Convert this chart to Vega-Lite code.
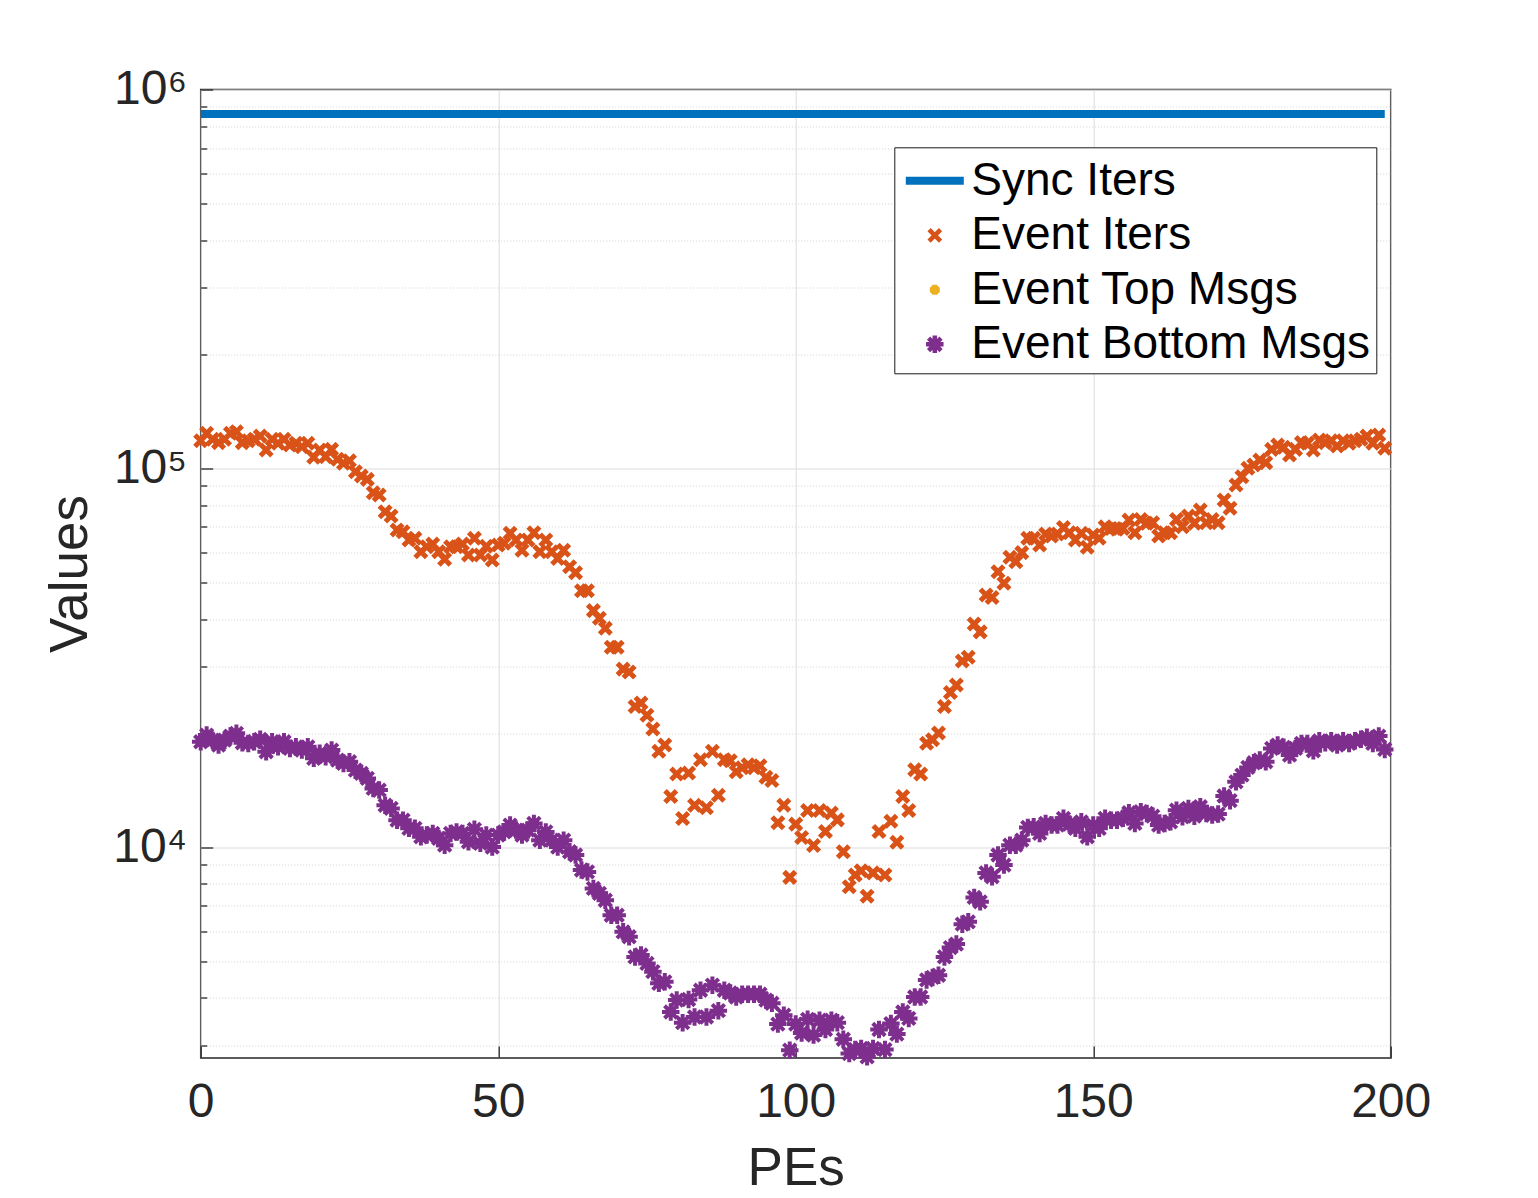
{
  "$schema": "https://vega.github.io/schema/vega-lite/v6.json",
  "width": 1190,
  "height": 968.5,
  "autosize": "none",
  "padding": {"left": 200.7, "top": 89.5, "right": 147.3, "bottom": 140},
  "background": "white",
  "config": {
    "font": "Liberation Sans",
    "view": {"stroke": "#262626", "strokeWidth": 1.5},
    "axis": {
      "labelFont": "Liberation Sans",
      "titleFont": "Liberation Sans",
      "labelColor": "#262626",
      "titleColor": "#262626",
      "titleFontWeight": "normal",
      "labelFontSize": 48,
      "titleFontSize": 53,
      "domain": false,
      "tickColor": "#262626",
      "tickWidth": 1.3,
      "gridColor": "#dcdcdc",
      "gridWidth": 1
    },
    "legend": {
      "orient": "none",
      "legendX": 693.6,
      "legendY": 57.8,
      "fillColor": "white",
      "strokeColor": "#1a1a1a",
      "padding": 6,
      "labelFont": "Liberation Sans",
      "labelFontSize": 46,
      "labelColor": "black",
      "labelLimit": 600,
      "symbolOffset": 7,
      "labelOffset": 9,
      "symbolSize": 2500,
      "symbolStrokeWidth": 4.5,
      "rowPadding": 3.5
    }
  },
  "data": {
    "values": [
      {"pe": 0, "sync": 862000, "iters": 118300, "top": 18970, "bottom": 18970},
      {"pe": 1, "sync": 862000, "iters": 123700, "top": 19760, "bottom": 19760},
      {"pe": 2, "sync": 862000, "iters": 119300, "top": 19160, "bottom": 19160},
      {"pe": 3, "sync": 862000, "iters": 116900, "top": 18590, "bottom": 18590},
      {"pe": 4, "sync": 862000, "iters": 119300, "top": 19160, "bottom": 19160},
      {"pe": 5, "sync": 862000, "iters": 123700, "top": 19640, "bottom": 19640},
      {"pe": 6, "sync": 862000, "iters": 124900, "top": 19970, "bottom": 19970},
      {"pe": 7, "sync": 862000, "iters": 116900, "top": 18860, "bottom": 18860},
      {"pe": 8, "sync": 862000, "iters": 118300, "top": 18780, "bottom": 18780},
      {"pe": 9, "sync": 862000, "iters": 119300, "top": 18970, "bottom": 18970},
      {"pe": 10, "sync": 862000, "iters": 121700, "top": 19250, "bottom": 19250},
      {"pe": 11, "sync": 862000, "iters": 111800, "top": 17850, "bottom": 17850},
      {"pe": 12, "sync": 862000, "iters": 119300, "top": 18970, "bottom": 18970},
      {"pe": 13, "sync": 862000, "iters": 116400, "top": 18400, "bottom": 18400},
      {"pe": 14, "sync": 862000, "iters": 119300, "top": 18970, "bottom": 18970},
      {"pe": 15, "sync": 862000, "iters": 115200, "top": 18220, "bottom": 18220},
      {"pe": 16, "sync": 862000, "iters": 116400, "top": 18400, "bottom": 18400},
      {"pe": 17, "sync": 862000, "iters": 114000, "top": 18040, "bottom": 18040},
      {"pe": 18, "sync": 862000, "iters": 116400, "top": 18400, "bottom": 18400},
      {"pe": 19, "sync": 862000, "iters": 106900, "top": 17150, "bottom": 17150},
      {"pe": 20, "sync": 862000, "iters": 111800, "top": 17680, "bottom": 17680},
      {"pe": 21, "sync": 862000, "iters": 107300, "top": 17320, "bottom": 17320},
      {"pe": 22, "sync": 862000, "iters": 112200, "top": 18040, "bottom": 18040},
      {"pe": 23, "sync": 862000, "iters": 105600, "top": 16970, "bottom": 16970},
      {"pe": 24, "sync": 862000, "iters": 103100, "top": 16630, "bottom": 16630},
      {"pe": 25, "sync": 862000, "iters": 104700, "top": 16800, "bottom": 16800},
      {"pe": 26, "sync": 862000, "iters": 97950, "top": 15970, "bottom": 15970},
      {"pe": 27, "sync": 862000, "iters": 95400, "top": 15650, "bottom": 15650},
      {"pe": 28, "sync": 862000, "iters": 93500, "top": 15180, "bottom": 15180},
      {"pe": 29, "sync": 862000, "iters": 86200, "top": 14290, "bottom": 14290},
      {"pe": 30, "sync": 862000, "iters": 85000, "top": 14140, "bottom": 14140},
      {"pe": 31, "sync": 862000, "iters": 76800, "top": 12900, "bottom": 12900},
      {"pe": 32, "sync": 862000, "iters": 74800, "top": 12650, "bottom": 12650},
      {"pe": 33, "sync": 862000, "iters": 68700, "top": 11780, "bottom": 11780},
      {"pe": 34, "sync": 862000, "iters": 68000, "top": 11780, "bottom": 11780},
      {"pe": 35, "sync": 862000, "iters": 64700, "top": 11210, "bottom": 11210},
      {"pe": 36, "sync": 862000, "iters": 65400, "top": 11210, "bottom": 11210},
      {"pe": 37, "sync": 862000, "iters": 60200, "top": 10650, "bottom": 10650},
      {"pe": 38, "sync": 862000, "iters": 62100, "top": 10760, "bottom": 10760},
      {"pe": 39, "sync": 862000, "iters": 63100, "top": 10870, "bottom": 10870},
      {"pe": 40, "sync": 862000, "iters": 60200, "top": 10540, "bottom": 10540},
      {"pe": 41, "sync": 862000, "iters": 57500, "top": 10120, "bottom": 10120},
      {"pe": 42, "sync": 862000, "iters": 62100, "top": 10870, "bottom": 10870},
      {"pe": 43, "sync": 862000, "iters": 62100, "top": 10970, "bottom": 10970},
      {"pe": 44, "sync": 862000, "iters": 63100, "top": 10870, "bottom": 10870},
      {"pe": 45, "sync": 862000, "iters": 59000, "top": 10330, "bottom": 10330},
      {"pe": 46, "sync": 862000, "iters": 65400, "top": 11140, "bottom": 11140},
      {"pe": 47, "sync": 862000, "iters": 59000, "top": 10230, "bottom": 10230},
      {"pe": 48, "sync": 862000, "iters": 62300, "top": 10760, "bottom": 10760},
      {"pe": 49, "sync": 862000, "iters": 57300, "top": 10000, "bottom": 10000},
      {"pe": 50, "sync": 862000, "iters": 62700, "top": 10760, "bottom": 10760},
      {"pe": 51, "sync": 862000, "iters": 63400, "top": 10970, "bottom": 10970},
      {"pe": 52, "sync": 862000, "iters": 67400, "top": 11430, "bottom": 11430},
      {"pe": 53, "sync": 862000, "iters": 64700, "top": 11090, "bottom": 11090},
      {"pe": 54, "sync": 862000, "iters": 60800, "top": 10760, "bottom": 10760},
      {"pe": 55, "sync": 862000, "iters": 64700, "top": 11090, "bottom": 11090},
      {"pe": 56, "sync": 862000, "iters": 67600, "top": 11550, "bottom": 11550},
      {"pe": 57, "sync": 862000, "iters": 60200, "top": 10430, "bottom": 10430},
      {"pe": 58, "sync": 862000, "iters": 64700, "top": 10970, "bottom": 10970},
      {"pe": 59, "sync": 862000, "iters": 60200, "top": 10430, "bottom": 10430},
      {"pe": 60, "sync": 862000, "iters": 57800, "top": 10000, "bottom": 10000},
      {"pe": 61, "sync": 862000, "iters": 60800, "top": 10430, "bottom": 10430},
      {"pe": 62, "sync": 862000, "iters": 55000, "top": 9720, "bottom": 9720},
      {"pe": 63, "sync": 862000, "iters": 53000, "top": 9530, "bottom": 9530},
      {"pe": 64, "sync": 862000, "iters": 47500, "top": 8700, "bottom": 8700},
      {"pe": 65, "sync": 862000, "iters": 47500, "top": 8600, "bottom": 8600},
      {"pe": 66, "sync": 862000, "iters": 42100, "top": 7780, "bottom": 7780},
      {"pe": 67, "sync": 862000, "iters": 40200, "top": 7550, "bottom": 7550},
      {"pe": 68, "sync": 862000, "iters": 37800, "top": 7240, "bottom": 7240},
      {"pe": 69, "sync": 862000, "iters": 33700, "top": 6610, "bottom": 6610},
      {"pe": 70, "sync": 862000, "iters": 33700, "top": 6610, "bottom": 6610},
      {"pe": 71, "sync": 862000, "iters": 29500, "top": 5975, "bottom": 5975},
      {"pe": 72, "sync": 862000, "iters": 29000, "top": 5800, "bottom": 5800},
      {"pe": 73, "sync": 862000, "iters": 23500, "top": 5130, "bottom": 5130},
      {"pe": 74, "sync": 862000, "iters": 24000, "top": 5190, "bottom": 5190},
      {"pe": 75, "sync": 862000, "iters": 22300, "top": 4930, "bottom": 4930},
      {"pe": 76, "sync": 862000, "iters": 20500, "top": 4690, "bottom": 4690},
      {"pe": 77, "sync": 862000, "iters": 17900, "top": 4370, "bottom": 4370},
      {"pe": 78, "sync": 862000, "iters": 18600, "top": 4410, "bottom": 4410},
      {"pe": 79, "sync": 862000, "iters": 13600, "top": 3670, "bottom": 3670},
      {"pe": 80, "sync": 862000, "iters": 15600, "top": 3945, "bottom": 3945},
      {"pe": 81, "sync": 862000, "iters": 11900, "top": 3440, "bottom": 3440},
      {"pe": 82, "sync": 862000, "iters": 15700, "top": 3960, "bottom": 3960},
      {"pe": 83, "sync": 862000, "iters": 12900, "top": 3560, "bottom": 3560},
      {"pe": 84, "sync": 862000, "iters": 17000, "top": 4190, "bottom": 4190},
      {"pe": 85, "sync": 862000, "iters": 12700, "top": 3560, "bottom": 3560},
      {"pe": 86, "sync": 862000, "iters": 17900, "top": 4320, "bottom": 4320},
      {"pe": 87, "sync": 862000, "iters": 13700, "top": 3700, "bottom": 3700},
      {"pe": 88, "sync": 862000, "iters": 17000, "top": 4190, "bottom": 4190},
      {"pe": 89, "sync": 862000, "iters": 16900, "top": 4120, "bottom": 4120},
      {"pe": 90, "sync": 862000, "iters": 15800, "top": 4020, "bottom": 4020},
      {"pe": 91, "sync": 862000, "iters": 16200, "top": 4090, "bottom": 4090},
      {"pe": 92, "sync": 862000, "iters": 16500, "top": 4090, "bottom": 4090},
      {"pe": 93, "sync": 862000, "iters": 16200, "top": 4090, "bottom": 4090},
      {"pe": 94, "sync": 862000, "iters": 16400, "top": 4090, "bottom": 4090},
      {"pe": 95, "sync": 862000, "iters": 15300, "top": 3945, "bottom": 3945},
      {"pe": 96, "sync": 862000, "iters": 15000, "top": 3870, "bottom": 3870},
      {"pe": 97, "sync": 862000, "iters": 11600, "top": 3410, "bottom": 3410},
      {"pe": 98, "sync": 862000, "iters": 12900, "top": 3600, "bottom": 3600},
      {"pe": 99, "sync": 862000, "iters": 8320, "top": 2910, "bottom": 2910},
      {"pe": 100, "sync": 862000, "iters": 11500, "top": 3410, "bottom": 3410},
      {"pe": 101, "sync": 862000, "iters": 10600, "top": 3230, "bottom": 3230},
      {"pe": 102, "sync": 862000, "iters": 12500, "top": 3510, "bottom": 3510},
      {"pe": 103, "sync": 862000, "iters": 10100, "top": 3190, "bottom": 3190},
      {"pe": 104, "sync": 862000, "iters": 12500, "top": 3490, "bottom": 3490},
      {"pe": 105, "sync": 862000, "iters": 11000, "top": 3300, "bottom": 3300},
      {"pe": 106, "sync": 862000, "iters": 12300, "top": 3490, "bottom": 3490},
      {"pe": 107, "sync": 862000, "iters": 11800, "top": 3440, "bottom": 3440},
      {"pe": 108, "sync": 862000, "iters": 9720, "top": 3110, "bottom": 3110},
      {"pe": 109, "sync": 862000, "iters": 7860, "top": 2850, "bottom": 2850},
      {"pe": 110, "sync": 862000, "iters": 8440, "top": 2920, "bottom": 2920},
      {"pe": 111, "sync": 862000, "iters": 8660, "top": 2940, "bottom": 2940},
      {"pe": 112, "sync": 862000, "iters": 7420, "top": 2795, "bottom": 2795},
      {"pe": 113, "sync": 862000, "iters": 8550, "top": 2940, "bottom": 2940},
      {"pe": 114, "sync": 862000, "iters": 11000, "top": 3300, "bottom": 3300},
      {"pe": 115, "sync": 862000, "iters": 8440, "top": 2920, "bottom": 2920},
      {"pe": 116, "sync": 862000, "iters": 11700, "top": 3420, "bottom": 3420},
      {"pe": 117, "sync": 862000, "iters": 10300, "top": 3210, "bottom": 3210},
      {"pe": 118, "sync": 862000, "iters": 13600, "top": 3670, "bottom": 3670},
      {"pe": 119, "sync": 862000, "iters": 12500, "top": 3530, "bottom": 3530},
      {"pe": 120, "sync": 862000, "iters": 16000, "top": 4020, "bottom": 4020},
      {"pe": 121, "sync": 862000, "iters": 15600, "top": 4020, "bottom": 4020},
      {"pe": 122, "sync": 862000, "iters": 18800, "top": 4460, "bottom": 4460},
      {"pe": 123, "sync": 862000, "iters": 19200, "top": 4530, "bottom": 4530},
      {"pe": 124, "sync": 862000, "iters": 20000, "top": 4590, "bottom": 4590},
      {"pe": 125, "sync": 862000, "iters": 23500, "top": 5130, "bottom": 5130},
      {"pe": 126, "sync": 862000, "iters": 25600, "top": 5430, "bottom": 5430},
      {"pe": 127, "sync": 862000, "iters": 26800, "top": 5545, "bottom": 5545},
      {"pe": 128, "sync": 862000, "iters": 31000, "top": 6260, "bottom": 6260},
      {"pe": 129, "sync": 862000, "iters": 31700, "top": 6350, "bottom": 6350},
      {"pe": 130, "sync": 862000, "iters": 38800, "top": 7365, "bottom": 7365},
      {"pe": 131, "sync": 862000, "iters": 37000, "top": 7170, "bottom": 7170},
      {"pe": 132, "sync": 862000, "iters": 46300, "top": 8550, "bottom": 8550},
      {"pe": 133, "sync": 862000, "iters": 45600, "top": 8350, "bottom": 8350},
      {"pe": 134, "sync": 862000, "iters": 53300, "top": 9530, "bottom": 9530},
      {"pe": 135, "sync": 862000, "iters": 49700, "top": 8965, "bottom": 8965},
      {"pe": 136, "sync": 862000, "iters": 58200, "top": 10120, "bottom": 10120},
      {"pe": 137, "sync": 862000, "iters": 56700, "top": 10120, "bottom": 10120},
      {"pe": 138, "sync": 862000, "iters": 59900, "top": 10430, "bottom": 10430},
      {"pe": 139, "sync": 862000, "iters": 65400, "top": 11270, "bottom": 11270},
      {"pe": 140, "sync": 862000, "iters": 65400, "top": 11310, "bottom": 11310},
      {"pe": 141, "sync": 862000, "iters": 62700, "top": 10870, "bottom": 10870},
      {"pe": 142, "sync": 862000, "iters": 67100, "top": 11550, "bottom": 11550},
      {"pe": 143, "sync": 862000, "iters": 66300, "top": 11430, "bottom": 11430},
      {"pe": 144, "sync": 862000, "iters": 67100, "top": 11430, "bottom": 11430},
      {"pe": 145, "sync": 862000, "iters": 69800, "top": 11910, "bottom": 11910},
      {"pe": 146, "sync": 862000, "iters": 67600, "top": 11500, "bottom": 11500},
      {"pe": 147, "sync": 862000, "iters": 64700, "top": 11210, "bottom": 11210},
      {"pe": 148, "sync": 862000, "iters": 67400, "top": 11660, "bottom": 11660},
      {"pe": 149, "sync": 862000, "iters": 61900, "top": 10650, "bottom": 10650},
      {"pe": 150, "sync": 862000, "iters": 66700, "top": 11430, "bottom": 11430},
      {"pe": 151, "sync": 862000, "iters": 65400, "top": 11210, "bottom": 11210},
      {"pe": 152, "sync": 862000, "iters": 70100, "top": 11910, "bottom": 11910},
      {"pe": 153, "sync": 862000, "iters": 69400, "top": 11780, "bottom": 11780},
      {"pe": 154, "sync": 862000, "iters": 69000, "top": 11780, "bottom": 11780},
      {"pe": 155, "sync": 862000, "iters": 69400, "top": 11910, "bottom": 11910},
      {"pe": 156, "sync": 862000, "iters": 73000, "top": 12320, "bottom": 12320},
      {"pe": 157, "sync": 862000, "iters": 67600, "top": 11550, "bottom": 11550},
      {"pe": 158, "sync": 862000, "iters": 73300, "top": 12400, "bottom": 12400},
      {"pe": 159, "sync": 862000, "iters": 71600, "top": 12270, "bottom": 12270},
      {"pe": 160, "sync": 862000, "iters": 71800, "top": 12070, "bottom": 12070},
      {"pe": 161, "sync": 862000, "iters": 66300, "top": 11430, "bottom": 11430},
      {"pe": 162, "sync": 862000, "iters": 67600, "top": 11550, "bottom": 11550},
      {"pe": 163, "sync": 862000, "iters": 67600, "top": 11660, "bottom": 11660},
      {"pe": 164, "sync": 862000, "iters": 73300, "top": 12520, "bottom": 12520},
      {"pe": 165, "sync": 862000, "iters": 70100, "top": 12020, "bottom": 12020},
      {"pe": 166, "sync": 862000, "iters": 74800, "top": 12650, "bottom": 12650},
      {"pe": 167, "sync": 862000, "iters": 71600, "top": 12070, "bottom": 12070},
      {"pe": 168, "sync": 862000, "iters": 77600, "top": 12780, "bottom": 12780},
      {"pe": 169, "sync": 862000, "iters": 71800, "top": 12270, "bottom": 12270},
      {"pe": 170, "sync": 862000, "iters": 73300, "top": 12150, "bottom": 12150},
      {"pe": 171, "sync": 862000, "iters": 71800, "top": 12220, "bottom": 12220},
      {"pe": 172, "sync": 862000, "iters": 82500, "top": 13640, "bottom": 13640},
      {"pe": 173, "sync": 862000, "iters": 78400, "top": 13260, "bottom": 13260},
      {"pe": 174, "sync": 862000, "iters": 90300, "top": 14870, "bottom": 14870},
      {"pe": 175, "sync": 862000, "iters": 95000, "top": 15490, "bottom": 15490},
      {"pe": 176, "sync": 862000, "iters": 100000, "top": 16230, "bottom": 16230},
      {"pe": 177, "sync": 862000, "iters": 102000, "top": 16700, "bottom": 16700},
      {"pe": 178, "sync": 862000, "iters": 105200, "top": 16970, "bottom": 16970},
      {"pe": 179, "sync": 862000, "iters": 103500, "top": 16800, "bottom": 16800},
      {"pe": 180, "sync": 862000, "iters": 112200, "top": 18220, "bottom": 18220},
      {"pe": 181, "sync": 862000, "iters": 115200, "top": 18590, "bottom": 18590},
      {"pe": 182, "sync": 862000, "iters": 113600, "top": 18340, "bottom": 18340},
      {"pe": 183, "sync": 862000, "iters": 108400, "top": 17500, "bottom": 17500},
      {"pe": 184, "sync": 862000, "iters": 112200, "top": 18220, "bottom": 18220},
      {"pe": 185, "sync": 862000, "iters": 116900, "top": 18780, "bottom": 18780},
      {"pe": 186, "sync": 862000, "iters": 116400, "top": 18780, "bottom": 18780},
      {"pe": 187, "sync": 862000, "iters": 111800, "top": 17960, "bottom": 17960},
      {"pe": 188, "sync": 862000, "iters": 118800, "top": 19080, "bottom": 19080},
      {"pe": 189, "sync": 862000, "iters": 116900, "top": 18860, "bottom": 18860},
      {"pe": 190, "sync": 862000, "iters": 118300, "top": 19080, "bottom": 19080},
      {"pe": 191, "sync": 862000, "iters": 114500, "top": 18590, "bottom": 18590},
      {"pe": 192, "sync": 862000, "iters": 118300, "top": 19080, "bottom": 19080},
      {"pe": 193, "sync": 862000, "iters": 116400, "top": 18780, "bottom": 18780},
      {"pe": 194, "sync": 862000, "iters": 118300, "top": 19080, "bottom": 19080},
      {"pe": 195, "sync": 862000, "iters": 119300, "top": 19250, "bottom": 19250},
      {"pe": 196, "sync": 862000, "iters": 121700, "top": 19490, "bottom": 19490},
      {"pe": 197, "sync": 862000, "iters": 116400, "top": 18780, "bottom": 18780},
      {"pe": 198, "sync": 862000, "iters": 122400, "top": 19640, "bottom": 19640},
      {"pe": 199, "sync": 862000, "iters": 112900, "top": 18110, "bottom": 18110}
    ]
  },
  "layer": [
    {
      "mark": {"type": "line", "strokeWidth": 8, "clip": true},
      "encoding": {
        "x": {
          "field": "pe",
          "type": "quantitative",
          "scale": {"domain": [0, 200], "nice": false},
          "axis": {
            "values": [0, 50, 100, 150, 200],
            "title": "PEs",
            "tickSize": -12,
            "labelPadding": 32,
            "labelFlush": false,
            "titleX": 595,
            "titleY": 126,
            "titleBaseline": "alphabetic",
            "titleAnchor": "middle"
          }
        },
        "y": {
          "field": "sync",
          "type": "quantitative",
          "scale": {"type": "log", "domain": [2775, 1000000], "nice": false},
          "axis": {
            "values": [3000, 4000, 5000, 6000, 7000, 8000, 9000, 10000, 20000, 30000, 40000, 50000, 60000, 70000, 80000, 90000, 100000, 200000, 300000, 400000, 500000, 600000, 700000, 800000, 900000, 1000000],
            "labelExpr": "datum.value == 10000 ? '10⁴' : datum.value == 100000 ? '10⁵' : datum.value == 1000000 ? '10⁶' : ''",
            "labelBaseline": "middle",
            "labelPadding": 26,
            "tickSize": {"condition": {"test": "datum.value == 10000 || datum.value == 100000 || datum.value == 1000000", "value": -12}, "value": -6},
            "gridDash": {"condition": {"test": "datum.value == 10000 || datum.value == 100000 || datum.value == 1000000", "value": []}, "value": [1, 2]},
            "gridColor": {"condition": {"test": "datum.value == 10000 || datum.value == 100000 || datum.value == 1000000", "value": "#dcdcdc"}, "value": "#d0d0d0"},
            "title": "Values",
            "titleX": -114.7,
            "titleY": 484,
            "titleBaseline": "alphabetic",
            "titleAnchor": "middle"
          }
        },
        "color": {
          "datum": "Sync Iters",
          "title": null,
          "scale": {
            "domain": ["Sync Iters", "Event Iters", "Event Top Msgs", "Event Bottom Msgs"],
            "range": ["#0072BD", "#D95319", "#EDB120", "#7E2F8E"]
          }
        }
      }
    },
    {
      "mark": {"type": "point", "filled": false, "strokeWidth": 5, "size": 2500, "opacity": 1, "clip": false},
      "encoding": {
        "x": {"field": "pe", "type": "quantitative"},
        "y": {"field": "iters", "type": "quantitative"},
        "color": {"datum": "Event Iters", "title": null},
        "shape": {
          "datum": "Event Iters",
          "title": null,
          "scale": {
            "domain": ["Sync Iters", "Event Iters", "Event Top Msgs", "Event Bottom Msgs"],
            "range": [
              "M-1.07,-0.07L1.07,-0.07L1.07,0.07L-1.07,0.07Z",
              "M-0.23,-0.23L0.23,0.23M-0.23,0.23L0.23,-0.23",
              "M-0.2,0L0.2,0M0,-0.2L0,0.2M-0.14,-0.14L0.14,0.14M-0.14,0.14L0.14,-0.14",
              "M-0.35,0L0.35,0M0,-0.35L0,0.35M-0.25,-0.25L0.25,0.25M-0.25,0.25L0.25,-0.25"
            ]
          }
        }
      }
    },
    {
      "mark": {"type": "point", "filled": false, "strokeWidth": 4, "size": 2500, "opacity": 1, "clip": false},
      "encoding": {
        "x": {"field": "pe", "type": "quantitative"},
        "y": {"field": "top", "type": "quantitative"},
        "color": {"datum": "Event Top Msgs", "title": null},
        "shape": {"datum": "Event Top Msgs", "title": null}
      }
    },
    {
      "mark": {"type": "point", "filled": false, "strokeWidth": 4, "size": 2500, "opacity": 1, "clip": false},
      "encoding": {
        "x": {"field": "pe", "type": "quantitative"},
        "y": {"field": "bottom", "type": "quantitative"},
        "color": {"datum": "Event Bottom Msgs", "title": null},
        "shape": {"datum": "Event Bottom Msgs", "title": null}
      }
    }
  ]
}
